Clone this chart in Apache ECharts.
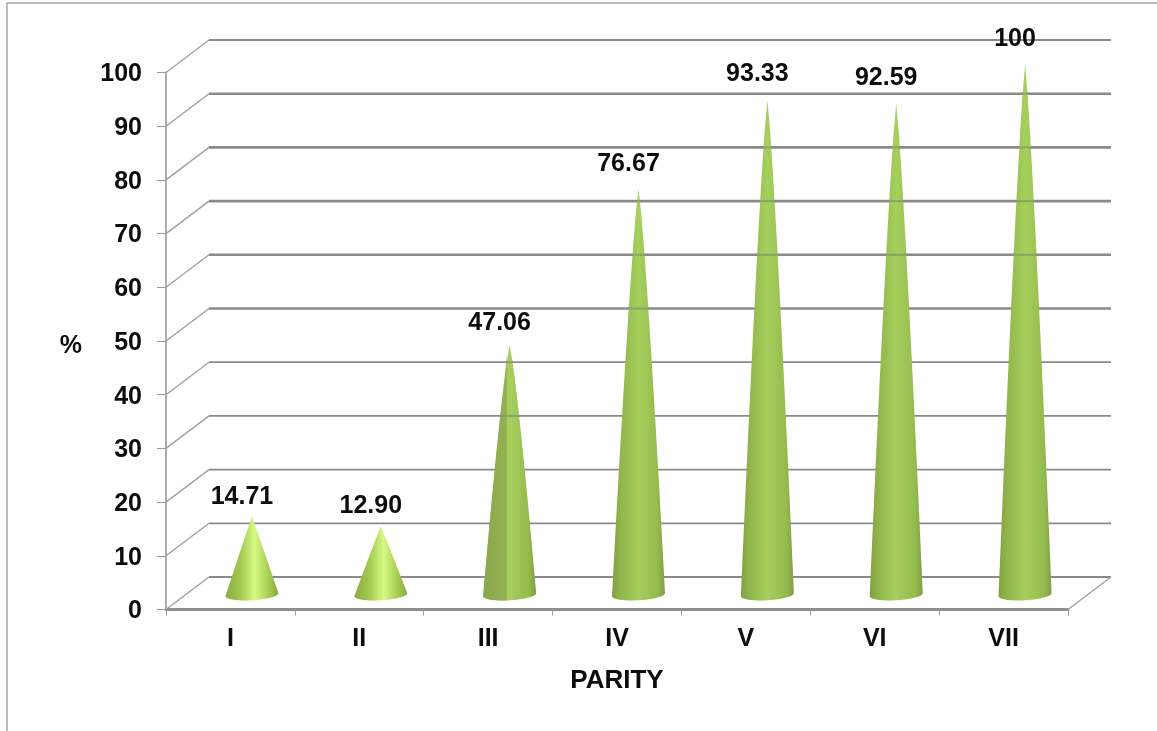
<!DOCTYPE html>
<html>
<head>
<meta charset="utf-8">
<style>html,body{margin:0;padding:0;background:#fff}#chart{width:1157px;height:731px}</style>
<script src="https://cdn.jsdelivr.net/npm/echarts@6/dist/echarts.min.js"></script>
</head>
<body>
<div id="chart"></div>
<script>
// Percentage by parity
const categories = ['I', 'II', 'III', 'IV', 'V', 'VI', 'VII'];
const percentValues = [14.71, 12.90, 47.06, 76.67, 93.33, 92.59, 100];
const valueLabels = ['14.71', '12.90', '47.06', '76.67', '93.33', '92.59', '100'];
const yTicks = [0, 10, 20, 30, 40, 50, 60, 70, 80, 90, 100];

// Pseudo-3D projection: the wall sits behind the front axis plane
const DEPTH_X = 43, DEPTH_Y = -32.5;
const CONE_HALF_WIDTH = 26.5, CONE_TILT = 1.5, CONE_RY = 5.5, CONE_SCALE = 530 / 537;
const TEXT_COLOR = '#0d0d0d';
const FONT = 'bold 25px "Liberation Sans", Arial, sans-serif';
const AXIS_TEXT = { fontFamily: 'Liberation Sans', fontSize: 25, fontWeight: 'bold', color: TEXT_COLOR };

function renderWall(params, api) {
  const t = api.value(1);
  const y = api.coord([0, t])[1];
  const left = params.coordSys.x, right = left + params.coordSys.width;
  const width = t >= 50 && t <= 90 ? 2.6 : 1.8;
  const kids = [
    { type: 'line', shape: { x1: left, y1: y, x2: left + DEPTH_X, y2: y + DEPTH_Y },
      style: { stroke: '#a0a0a0', lineWidth: 1.4 } },
    { type: 'line', shape: { x1: left + DEPTH_X, y1: y + DEPTH_Y, x2: right + DEPTH_X, y2: y + DEPTH_Y },
      style: { stroke: '#8a8a8a', lineWidth: width } }
  ];
  if (t === 0) {
    kids.push({ type: 'line', shape: { x1: right, y1: y, x2: right + DEPTH_X, y2: y + DEPTH_Y },
      style: { stroke: '#a0a0a0', lineWidth: 1.4 } });
  }
  return { type: 'group', children: kids };
}

function renderCone(params, api) {
  const idx = api.value(0);
  const v = api.value(1);
  const zeroY = api.coord([idx, 0])[1];
  const cx = api.coord([idx, 0])[0] + DEPTH_X / 2;
  const baseY = zeroY + DEPTH_Y / 2 + 1.5;
  const apexY = baseY - (zeroY - api.coord([idx, v])[1]) * CONE_SCALE;
  const height = baseY - apexY;
  const short = v < 20;
  // Tall cones swell slightly along their flanks, short ones stay straight
  const bulge = short ? 0.98 : 0.82;
  const halfWidthAt = function (frac) { return CONE_HALF_WIDTH * Math.pow(frac, bulge); };

  // Outline: apex, right flank, front rim of the base, left flank
  const pts = [[cx, apexY]];
  for (let k = 1; k < 16; k++) {
    const f = k / 16;
    pts.push([cx + halfWidthAt(f), apexY + height * f - CONE_TILT * f]);
  }
  for (let k = 0; k <= 24; k++) {
    const a = Math.PI * k / 24;
    pts.push([cx + CONE_HALF_WIDTH * Math.cos(a),
      baseY + CONE_RY * Math.sin(a) - CONE_TILT * Math.cos(a)]);
  }
  for (let k = 15; k > 0; k--) {
    const f = k / 16;
    pts.push([cx - halfWidthAt(f), apexY + height * f + CONE_TILT * f]);
  }

  const fill = {
    type: 'linear', x: 0, y: 0, x2: 1, y2: 0,
    colorStops: short
      ? [{ offset: 0, color: '#88ab40' }, { offset: 0.3, color: '#a5cb52' },
         { offset: 0.55, color: '#d6f984' }, { offset: 0.8, color: '#a9cf55' }, { offset: 1, color: '#88a93f' }]
      : [{ offset: 0, color: '#7f9f40' }, { offset: 0.14, color: '#8fb34a' },
         { offset: 0.5, color: '#a6cf5c' }, { offset: 0.86, color: '#95ba4e' }, { offset: 1, color: '#7f9f40' }]
  };
  const kids = [{ type: 'polygon', shape: { points: pts }, style: { fill: fill } }];

  // Third cone carries a duller left part, split by a vertical seam
  if (idx === 2) {
    const seamX = cx - 3;
    const seamPts = pts.filter(function (p) { return p[0] <= seamX; });
    kids.push({ type: 'polygon',
      shape: { points: [[seamX, apexY + height * 0.04]].concat(seamPts.reverse()).concat([[seamX, baseY + CONE_RY]]) },
      style: { fill: '#8ca850', opacity: 0.75 } });
  }

  // Wall lines stay faintly visible through the slim upper part of tall cones
  yTicks.forEach(function (t) {
    const wy = api.coord([idx, t])[1] + DEPTH_Y;
    const frac = (wy - apexY) / height;
    if (v > 40 && frac > 0 && frac < 0.36) {
      const hw = halfWidthAt(frac) + 1;
      kids.push({ type: 'line', shape: { x1: cx - hw, y1: wy, x2: cx + hw, y2: wy },
        style: { stroke: 'rgba(135,145,115,0.75)', lineWidth: 2 } });
    }
  });

  kids.push({ type: 'text', style: {
    text: valueLabels[idx], x: cx - 10, y: apexY - (19 + v * 0.07),
    font: FONT, fill: TEXT_COLOR, align: 'center', verticalAlign: 'middle' } });
  return { type: 'group', children: kids };
}

const chart = echarts.init(document.getElementById('chart'), null, { renderer: 'canvas' });
chart.setOption({
  animation: false,
  backgroundColor: '#ffffff',
  grid: { left: 166, top: 72.5, width: 902, height: 537 },
  xAxis: {
    type: 'category', data: categories, boundaryGap: true,
    name: 'PARITY', nameLocation: 'middle', nameGap: 58,
    nameTextStyle: { fontFamily: 'Liberation Sans', fontSize: 26, fontWeight: 'bold', color: TEXT_COLOR },
    axisLine: { lineStyle: { color: '#8f8f8f', width: 3 } },
    axisTick: { show: true, length: 6, lineStyle: { color: '#9a9a9a', width: 1 } },
    axisLabel: Object.assign({ margin: 17 }, AXIS_TEXT),
    splitLine: { show: false }
  },
  yAxis: {
    type: 'value', min: 0, max: 100, interval: 10,
    name: '{pct|%}', nameLocation: 'middle', nameGap: 84, nameRotate: 0,
    nameTextStyle: { rich: { pct: Object.assign({ padding: [10, 0, 0, 0] }, AXIS_TEXT) } },
    axisLine: { show: true, lineStyle: { color: '#acacac', width: 2 } },
    axisTick: { show: true, length: 9, lineStyle: { color: '#9a9a9a', width: 1 } },
    axisLabel: {
      margin: 24,
      formatter: '{tick|{value}}',
      rich: { tick: Object.assign({ padding: [4, 0, 0, 0] }, AXIS_TEXT) }
    },
    splitLine: { show: false }
  },
  graphic: [
    { type: 'line', z: 0, shape: { x1: 7, y1: 3, x2: 1157, y2: 3 }, style: { stroke: '#a3a3a3', lineWidth: 1.5 } },
    { type: 'line', z: 0, shape: { x1: 7, y1: 3, x2: 7, y2: 731 }, style: { stroke: '#a3a3a3', lineWidth: 1.5 } }
  ],
  series: [
    { type: 'custom', name: 'wall', z: 1, silent: true, renderItem: renderWall,
      data: yTicks.map(function (t) { return [0, t]; }) },
    { type: 'custom', name: 'percent', z: 3, silent: true, renderItem: renderCone,
      data: percentValues.map(function (v, i) { return [i, v]; }) }
  ]
});
</script>
</body>
</html>
